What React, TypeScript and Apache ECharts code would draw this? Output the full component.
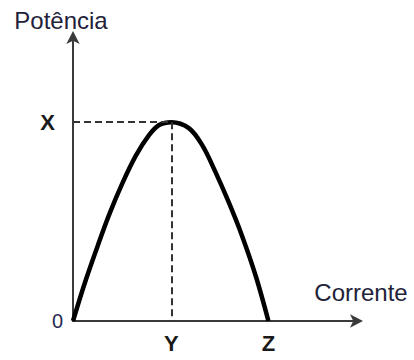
import React, { useEffect, useRef } from "react";
import * as echarts from "echarts";

// Curve points: current (I) and power (P), arbitrary units
const currentValues = [0, 0.42, 0.89, 1.3, 1.77, 2.24, 2.71, 3.06, 3.5, 4.12, 4.59, 5.06, 5.53, 6.0, 6.51, 6.95];
const powerValues = [0, 1.34, 2.68, 3.78, 4.88, 5.83, 6.55, 6.9, 7.0, 6.79, 6.2, 5.26, 4.2, 3.03, 1.55, 0];

// Marked values on the axes
const xTickValues = [3.5, 6.95];
const xTickLabels = ["Y", "Z"];
const yTickValues = [0, 7];
const yTickLabels = ["0", "X"];
const peakCurrent = 3.5;
const peakPower = 7;

const FONT = "'Liberation Sans', Arial, sans-serif";

export default function App() {
  const ref = useRef<HTMLDivElement>(null);
  useEffect(() => {
    if (!ref.current) return;
    const chart = echarts.init(ref.current, null, { renderer: "svg" });
    const data = currentValues.map((c, i) => [c, powerValues[i]]);
    chart.setOption({
      animation: false,
      backgroundColor: "#ffffff",
      grid: { left: 73, right: 57, top: 37, bottom: 39 },
      xAxis: {
        type: "value",
        min: 0,
        max: 10.1,
        name: "Corrente",
        nameLocation: "end",
        nameGap: 4,
        nameTextStyle: {
          fontFamily: FONT,
          fontSize: 24,
          color: "#22223a",
          align: "center",
          verticalAlign: "bottom",
          padding: [0, 0, 17, 0],
        },
        axisLine: {
          show: true,
          onZero: false,
          lineStyle: { color: "#3a3a3a", width: 2 },
          symbol: ["none", "arrow"],
          symbolSize: [10, 13],
          symbolOffset: [0, 6],
        },
        axisTick: { show: false },
        splitLine: { show: false },
        axisLabel: {
          customValues: xTickValues,
          margin: 11,
          fontFamily: FONT,
          fontSize: 22,
          fontWeight: "bold",
          color: "#1a1a1a",
          formatter: (v: number) => {
            const i = xTickValues.findIndex((t) => Math.abs(t - v) < 1e-6);
            return i >= 0 ? xTickLabels[i] : "";
          },
        },
      },
      yAxis: {
        type: "value",
        min: 0,
        max: 10,
        name: "Potência",
        nameLocation: "end",
        nameGap: 5,
        nameTextStyle: {
          fontFamily: FONT,
          fontSize: 24,
          color: "#22223a",
          align: "center",
          verticalAlign: "bottom",
          padding: [0, 24, 0, 0],
        },
        axisLine: {
          show: true,
          onZero: false,
          lineStyle: { color: "#3a3a3a", width: 2 },
          symbol: ["none", "arrow"],
          symbolSize: [10, 13],
          symbolOffset: [0, 6],
        },
        axisTick: { show: false },
        splitLine: { show: false },
        axisLabel: {
          customValues: yTickValues,
          margin: 10,
          fontFamily: FONT,
          color: "#1a1a1a",
          formatter: (v: number) => {
            const i = yTickValues.findIndex((t) => Math.abs(t - v) < 1e-6);
            if (i < 0) return "";
            return i === 0 ? `{z|${yTickLabels[i]}}` : `{x|${yTickLabels[i]}}`;
          },
          rich: {
            z: { fontFamily: FONT, fontSize: 20, color: "#2a2a50" },
            x: { fontFamily: FONT, fontSize: 22, fontWeight: "bold", color: "#1a1a1a", padding: [0, 8, 0, 0] },
          },
        },
      },
      series: [
        {
          type: "line",
          data,
          smooth: 0.35,
          showSymbol: false,
          lineStyle: { color: "#000000", width: 4.5 },
          markLine: {
            silent: true,
            symbol: "none",
            label: { show: false },
            lineStyle: { color: "#333333", width: 2, type: [7, 4] },
            data: [
              [{ coord: [0, peakPower] }, { coord: [peakCurrent, peakPower] }],
              [{ coord: [peakCurrent, peakPower] }, { coord: [peakCurrent, 0] }],
            ],
          },
        },
      ],
    });
    return () => chart.dispose();
  }, []);
  return <div ref={ref} style={{ width: 414, height: 360, position: "absolute", left: 0, top: 0 }} />;
}
